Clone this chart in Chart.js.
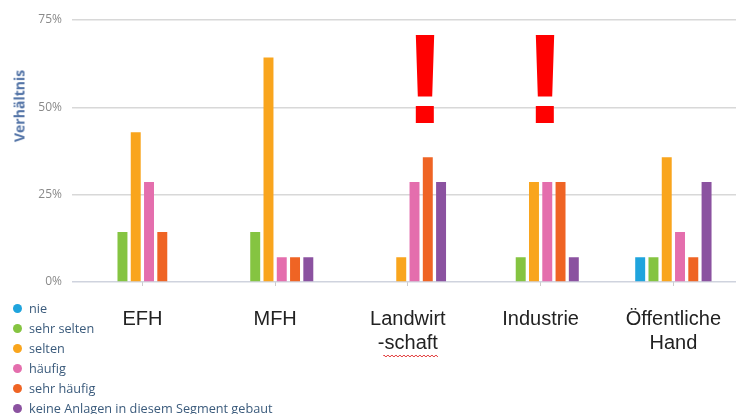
<!DOCTYPE html>
<html>
<head>
<meta charset="utf-8">
<script src="https://cdn.jsdelivr.net/npm/chart.js@4/dist/chart.umd.min.js"></script>
<style>
  html, body { margin: 0; padding: 0; background: #fff; overflow: hidden; width: 736px; height: 414px; }
  #wrap { position: absolute; left: 0; top: 0; width: 742px; height: 414px; }
  #legend { position: absolute; left: 0; top: 298px; font-family: "Open Sans", sans-serif; font-size: 12.7px; color: #3b5b7c; }
  .li { position: relative; height: 20px; line-height: 20px; padding-left: 29px; white-space: nowrap; }
  .dot { position: absolute; left: 13px; top: 5.5px; width: 9px; height: 9px; border-radius: 50%; }
  #ytitle { position: absolute; left: 19px; top: 106px; transform: translate(-50%, -50%) rotate(-90deg);
            font-family: "Open Sans", sans-serif; font-weight: bold; font-size: 14px; color: #5273a6; white-space: nowrap; }
  .bang { position: absolute; width: 60px; text-align: center; font-family: "Liberation Sans", Arial, sans-serif;
          font-weight: bold; font-size: 128px; line-height: 128px; color: #ff0000; }
</style>
</head>
<body>
<div id="wrap"><canvas id="c"></canvas></div>
<div id="ytitle">Verhältnis</div>
<div id="legend"></div>
<div class="bang" style="left:395px; top:15px;">!</div>
<div class="bang" style="left:515px; top:15px;">!</div>
<script>
const categories = [['EFH'], ['MFH'], ['Landwirt', '-schaft'], ['Industrie'], ['Öffentliche', 'Hand']];
const seriesNames = ['nie', 'sehr selten', 'selten', 'häufig', 'sehr häufig', 'keine Anlagen in diesem Segment gebaut'];
const seriesColors = ['#1fa4dd', '#85c441', '#f9a51d', '#e46ead', '#ef6424', '#8b52a0'];
const nie         = [0, 0, 0, 0, 7.1];
const sehrSelten  = [14.3, 14.3, 0, 7.1, 7.1];
const selten      = [42.9, 64.3, 7.1, 28.6, 35.7];
const haeufig     = [28.6, 7.1, 28.6, 28.6, 14.3];
const sehrHaeufig = [14.3, 7.1, 35.7, 28.6, 7.1];
const keine       = [0, 7.1, 28.6, 7.1, 28.6];
const yTicks = [0, 25, 50, 75];

const seriesValues = [nie, sehrSelten, selten, haeufig, sehrHaeufig, keine];

// HTML legend
const lg = document.getElementById('legend');
seriesNames.forEach((n, i) => {
  const d = document.createElement('div');
  d.className = 'li';
  const dot = document.createElement('span');
  dot.className = 'dot';
  dot.style.background = seriesColors[i];
  d.appendChild(dot);
  d.appendChild(document.createTextNode(n));
  lg.appendChild(d);
});

const X_FONT = { family: '"Liberation Sans", Arial, sans-serif', size: 20 };
const X_TICKLEN = 4, X_PAD = 21;

const squiggle = {
  id: 'squiggle',
  afterDraw(chart) {
    const xs = chart.scales.x;
    const ctx = chart.ctx;
    ctx.save();
    ctx.font = '20px "Liberation Sans", Arial, sans-serif';
    const w = ctx.measureText('-schaft').width;
    const cx = xs.getPixelForTick(2);
    const x0 = cx - w / 2 + 6, x1 = cx + w / 2;
    const y = chart.chartArea.bottom + X_TICKLEN + X_PAD + 24 + 25;
    ctx.strokeStyle = '#e03030';
    ctx.lineWidth = 1;
    ctx.beginPath();
    let up = true;
    ctx.moveTo(x0, y);
    for (let x = x0; x <= x1; x += 2) { ctx.lineTo(x, up ? y - 1 : y + 1); up = !up; }
    ctx.stroke();
    ctx.restore();
  }
};

new Chart(document.getElementById('c'), {
  type: 'bar',
  data: {
    labels: categories,
    datasets: seriesNames.map((n, i) => ({
      label: n,
      data: seriesValues[i],
      backgroundColor: seriesColors[i],
      borderWidth: 0,
      categoryPercentage: 0.6,
      barPercentage: 0.75
    }))
  },
  options: {
    responsive: true,
    maintainAspectRatio: false,
    animation: false,
    layout: { padding: { top: 20, left: 0, right: 0, bottom: 0 } },
    plugins: { legend: { display: false }, tooltip: { enabled: false } },
    scales: {
      x: {
        grid: { display: true, drawOnChartArea: false, drawTicks: true, tickLength: X_TICKLEN, offset: false, color: '#cccccc', lineWidth: 1 },
        border: { display: false },
        ticks: { font: X_FONT, color: '#222222', padding: X_PAD, maxRotation: 0, autoSkip: false },
        afterFit(s) { s.height = 132; }
      },
      y: {
        min: 0, max: 75,
        afterBuildTicks(s) { s.ticks = yTicks.map(v => ({ value: v })); },
        grid: { color: (c) => c.tick && c.tick.value === 0 ? '#cfd3de' : '#d8d8d8', lineWidth: 1.5, tickLength: 4, drawTicks: true },
        border: { display: false },
        ticks: { font: { family: '"Open Sans", sans-serif', size: 12 }, color: '#8a8a8a', padding: 10, callback: (v) => v + '%' },
        afterFit(s) { s.width = 76; }
      }
    }
  },
  plugins: [squiggle]
});
</script>
</body>
</html>
